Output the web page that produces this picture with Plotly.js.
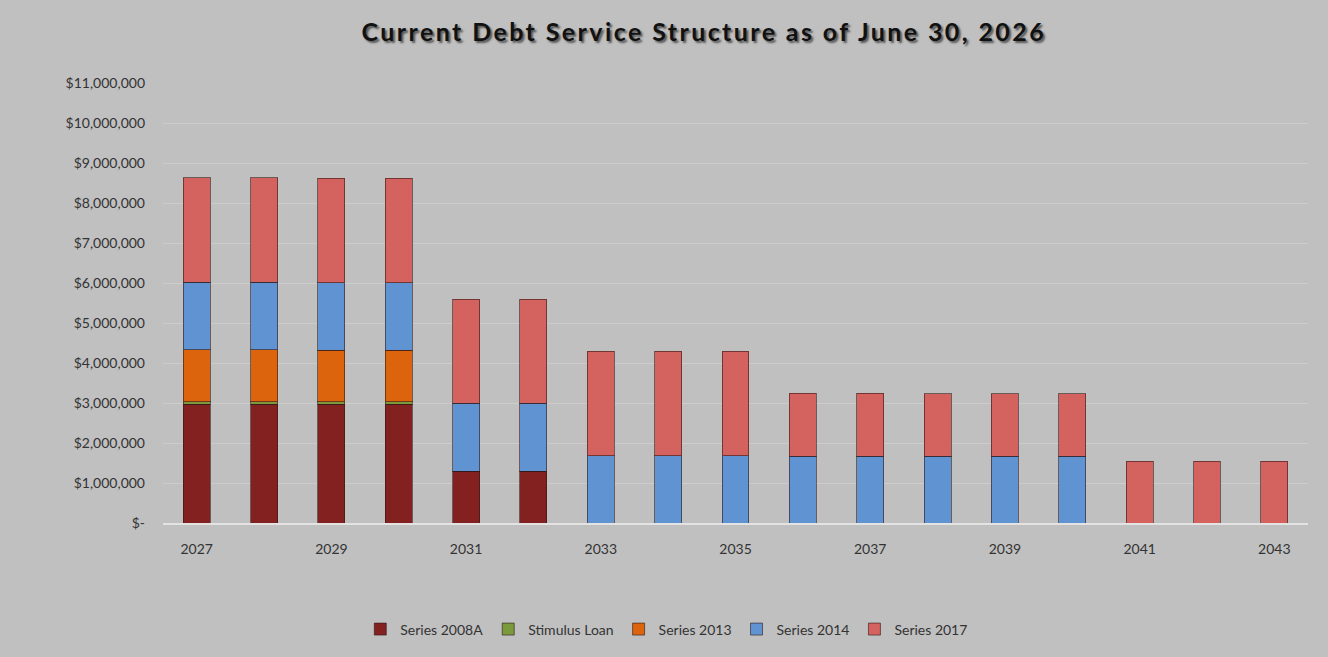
<!DOCTYPE html>
<html>
<head>
<meta charset="utf-8">
<script src="https://cdn.plot.ly/plotly-3.0.1.min.js"></script>
<style>html,body{margin:0;padding:0;background:#c0c0c0;}#chart{width:1328px;height:657px;}
.gtitle{letter-spacing:2.4px;}</style>
</head>
<body>
<div id="chart"></div>
<script>
const years = ["2027","2028","2029","2030","2031","2032","2033","2034","2035","2036","2037","2038","2039","2040","2041","2042","2043"];
const series2008A   = [2970000,2970000,2970000,2970000,1290000,1290000,0,0,0,0,0,0,0,0,0,0,0];
const stimulusLoan  = [60000,60000,60000,60000,0,0,0,0,0,0,0,0,0,0,0,0,0];
const series2013    = [1300000,1300000,1290000,1290000,0,0,0,0,0,0,0,0,0,0,0,0,0];
const series2014    = [1690000,1690000,1690000,1690000,1700000,1700000,1680000,1680000,1680000,1670000,1670000,1670000,1670000,1670000,0,0,0];
const series2017    = [2610000,2610000,2610000,2610000,2610000,2610000,2610000,2620000,2620000,1570000,1570000,1560000,1560000,1560000,1550000,1550000,1550000];
const seriesNames   = ["Series 2008A","Stimulus Loan","Series 2013","Series 2014","Series 2017"];
const seriesColors  = ["#832020","#7a9a3c","#dc640c","#5f93d2","#d4625f"];
const xTickVals = ["2027","2029","2031","2033","2035","2037","2039","2041","2043"];
const yTickVals = [0,1000000,2000000,3000000,4000000,5000000,6000000,7000000,8000000,9000000,10000000,11000000];
const yTickText = ["$-","$1,000,000","$2,000,000","$3,000,000","$4,000,000","$5,000,000","$6,000,000","$7,000,000","$8,000,000","$9,000,000","$10,000,000","$11,000,000"];

const allSeries = [series2008A, stimulusLoan, series2013, series2014, series2017];
const traces = allSeries.map((vals, i) => ({
  type: 'bar',
  name: seriesNames[i],
  x: years,
  y: vals,
  marker: {color: seriesColors[i], line: {color: 'rgba(50,25,25,0.6)', width: 1}},
  hoverinfo: 'x+y+name'
}));

const layout = {
  width: 1328, height: 657,
  paper_bgcolor: '#c0c0c0', plot_bgcolor: '#c0c0c0',
  barmode: 'stack', bargap: 0.6,
  margin: {l: 163, r: 20, t: 83, b: 132},
  font: {family: 'Lato, "Open Sans", sans-serif', size: 14, color: '#333333'},
  title: {
    text: 'Current Debt Service Structure as of June 30, 2026',
    font: {family: 'Lato, "Open Sans", sans-serif', size: 25, color: '#111111', weight: 'bold', shadow: '2px 2px 2px #555555'},
    x: 0.53, xanchor: 'center', y: 0.951, yanchor: 'middle'
  },
  xaxis: {
    type: 'category', tickmode: 'array', tickvals: xTickVals, ticktext: xTickVals,
    showgrid: false, showline: true, linecolor: '#e3e3e3', linewidth: 2,
    ticks: '', ticklen: 0, ticklabelstandoff: 12, tickfont: {size: 14, color: '#333333'}, zeroline: false
  },
  yaxis: {
    range: [0, 11000000], tickmode: 'array', tickvals: yTickVals, ticktext: yTickText,
    showgrid: true, gridcolor: '#cdcdcd', gridwidth: 1, zeroline: false,
    showline: false, ticks: '', ticklabelstandoff: 17, tickfont: {size: 14, color: '#333333'}
  },
  legend: {
    orientation: 'h', x: 0.44, xanchor: 'center', y: -0.242, yanchor: 'middle',
    font: {size: 14, color: '#333333'}, itemwidth: 30, traceorder: 'normal'
  },
  showlegend: true
};

Plotly.newPlot('chart', traces, layout, {displayModeBar: false, staticPlot: true});
</script>
</body>
</html>
